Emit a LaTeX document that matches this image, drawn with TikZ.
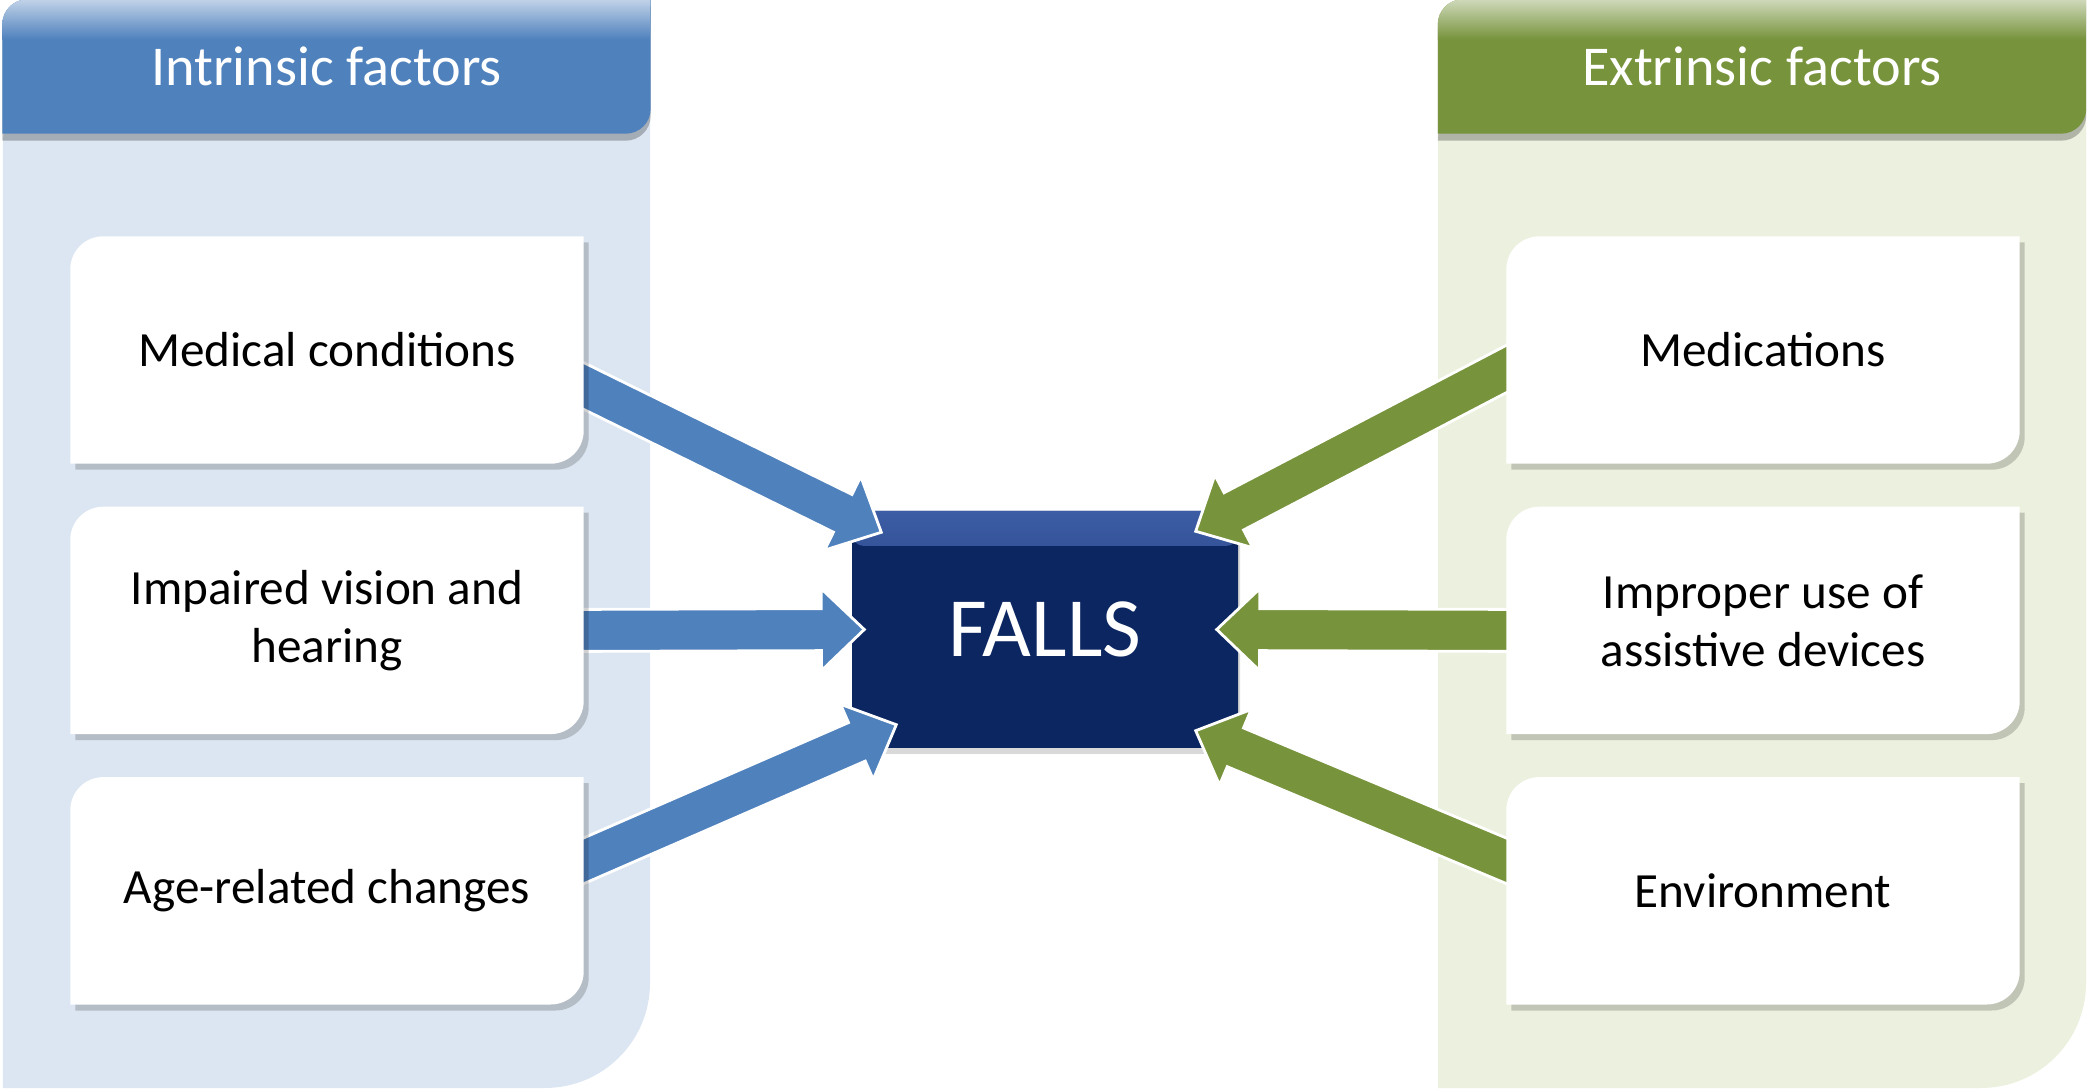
\documentclass[tikz,border=0pt]{standalone}
\usepackage{fontspec}
\setmainfont{Carlito}
\usetikzlibrary{positioning,calc,shadows,backgrounds}

\definecolor{FallsBlue}{HTML}{4F81BD}
\definecolor{FallsBlueLt}{HTML}{DCE6F2}
\definecolor{FallsGreen}{HTML}{77933C}
\definecolor{FallsGreenLt}{HTML}{EBF1DE}
\definecolor{FallsNavy}{HTML}{0B2660}
\definecolor{FallsNavyTop}{HTML}{3C5CA4}

\pgfdeclarelayer{flows}
\pgfdeclarelayer{boxes}
\pgfsetlayers{background,flows,boxes,main}

% block arrow: colour, tail, tip
\newcommand{\blockarrow}[3]{%
  \coordinate (ba-t) at ($(#2)!-0.3cm!(#3)$);
  \coordinate (ba-n) at ($(#3)!0.43cm!(#2)$);
  \filldraw[fill=#1,draw=white,line width=0.8pt,line join=miter]
    ($(ba-t)!0.21cm!90:(#3)$) -- ($(ba-n)!0.21cm!-90:(ba-t)$)
    -- ($(ba-n)!0.41cm!-90:(ba-t)$) -- (#3)
    -- ($(ba-n)!0.41cm!90:(ba-t)$) -- ($(ba-n)!0.21cm!90:(ba-t)$)
    -- ($(ba-t)!0.21cm!-90:(#3)$) -- cycle;}

\begin{document}
\begin{tikzpicture}[
    factor/.style={minimum width=5.12cm,minimum height=2.26cm,align=center,
                   inner sep=2pt,font=\fontsize{14}{16.5}\selectfont},
    header/.style={minimum width=6.47cm,minimum height=1.33cm,text=white,
                   font=\fontsize{16}{19}\selectfont},
    falls/.style={fill=FallsNavy,rounded corners=1.2mm,minimum width=3.86cm,
                  minimum height=2.37cm,text=white,font=\fontsize{24}{28}\selectfont,
                  drop shadow={opacity=0.3,shadow xshift=0.02cm,shadow yshift=-0.06cm},
                  path picture={\shade[top color=FallsNavyTop,bottom color=FallsNavy]
                    (path picture bounding box.north west) rectangle
                    ([yshift=-0.35cm]path picture bounding box.north east);}},
    card/.style={fill=white,preaction={fill=black,opacity=0.18,
                 transform canvas={shift={(0.05,-0.06)}}}},
    capshadow/.style={preaction={fill=black,opacity=0.25,
                 transform canvas={shift={(0,-0.07)}}}}]
  \useasboundingbox (0,0) rectangle (20.87,10.88);

  % the two side panels
  \begin{pgfonlayer}{background}
    \fill[FallsBlueLt] (0.03,0) -- (0.03,9.45) arc[start angle=180,end angle=90,radius=0.6]
      -- (6.50,10.05) -- (6.50,1.05) arc[start angle=0,end angle=-90,radius=1.05] -- cycle;
    \fill[FallsGreenLt] (14.38,0) -- (14.38,9.45) arc[start angle=180,end angle=90,radius=0.6]
      -- (20.86,10.05) -- (20.86,1.05) arc[start angle=0,end angle=-90,radius=1.05] -- cycle;
    \node[falls] (falls) at (10.45,4.585) {FALLS};
  \end{pgfonlayer}

  % headers
  \node[header] (intr) at (3.265,10.215) {Intrinsic factors};
  \node[header] (extr) at (17.62,10.215) {Extrinsic factors};

  % factors
  \node[factor] (med) at (3.27,7.38) {Medical conditions};
  \node[factor,below=0.43cm of med] (vis) {Impaired vision and\\hearing};
  \node[factor,below=0.43cm of vis] (age) {Age-related changes};
  \node[factor] (meds) at (17.63,7.38) {Medications};
  \node[factor,below=0.43cm of meds] (devs) {Improper use of\\assistive devices};
  \node[factor,below=0.43cm of devs] (env) {Environment};

  \begin{pgfonlayer}{boxes}
    \foreach \b in {med,vis,age,meds,devs,env}
      \fill[card] ([yshift=-3.3mm]\b.north west) arc[start angle=180,end angle=90,radius=3.3mm]
        -- (\b.north east) -- ([yshift=3.3mm]\b.south east)
        arc[start angle=0,end angle=-90,radius=3.3mm] -- (\b.south west) -- cycle;
    \foreach \h/\c in {intr/FallsBlue,extr/FallsGreen}{
      \fill[\c,capshadow] ([yshift=-2.5mm]\h.north west) arc[start angle=180,end angle=90,radius=2.5mm]
        -- (\h.north east) -- ([yshift=2.5mm]\h.south east)
        arc[start angle=0,end angle=-90,radius=2.5mm] -- (\h.south west) -- cycle;
      \begin{scope}
        \clip ([yshift=-2.5mm]\h.north west) arc[start angle=180,end angle=90,radius=2.5mm]
          -- (\h.north east) -- (\h.south east) -- (\h.south west) -- cycle;
        \shade[top color=\c!35!white,bottom color=\c] (\h.north west)
          rectangle ([yshift=-0.4cm]\h.north east);
      \end{scope}
    }
  \end{pgfonlayer}

  % arrows into FALLS
  \begin{pgfonlayer}{flows}
    \coordinate (medT) at ([yshift=-0.36cm]med.east);
    \coordinate (medH) at ([xshift=0.30cm,yshift=-0.22cm]falls.north west);
    \coordinate (visT) at ([yshift=-0.10cm]vis.east);
    \coordinate (visH) at ([xshift=0.13cm]falls.west);
    \coordinate (ageT) at ([yshift=0.30cm]age.east);
    \coordinate (ageH) at ([xshift=0.45cm,yshift=0.24cm]falls.south west);
    \coordinate (medsT) at ([yshift=-0.19cm]meds.west);
    \coordinate (medsH) at ([xshift=-0.43cm,yshift=-0.21cm]falls.north east);
    \coordinate (devsT) at ([yshift=-0.10cm]devs.west);
    \coordinate (devsH) at ([xshift=-0.22cm]falls.east);
    \coordinate (envT) at ([yshift=0.30cm]env.west);
    \coordinate (envH) at ([xshift=-0.43cm,yshift=0.18cm]falls.south east);
    \foreach \a/\c in {med/FallsBlue,vis/FallsBlue,age/FallsBlue,
                       meds/FallsGreen,devs/FallsGreen,env/FallsGreen}{
      \blockarrow{\c}{\a T}{\a H}
    }
  \end{pgfonlayer}
\end{tikzpicture}
\end{document}
